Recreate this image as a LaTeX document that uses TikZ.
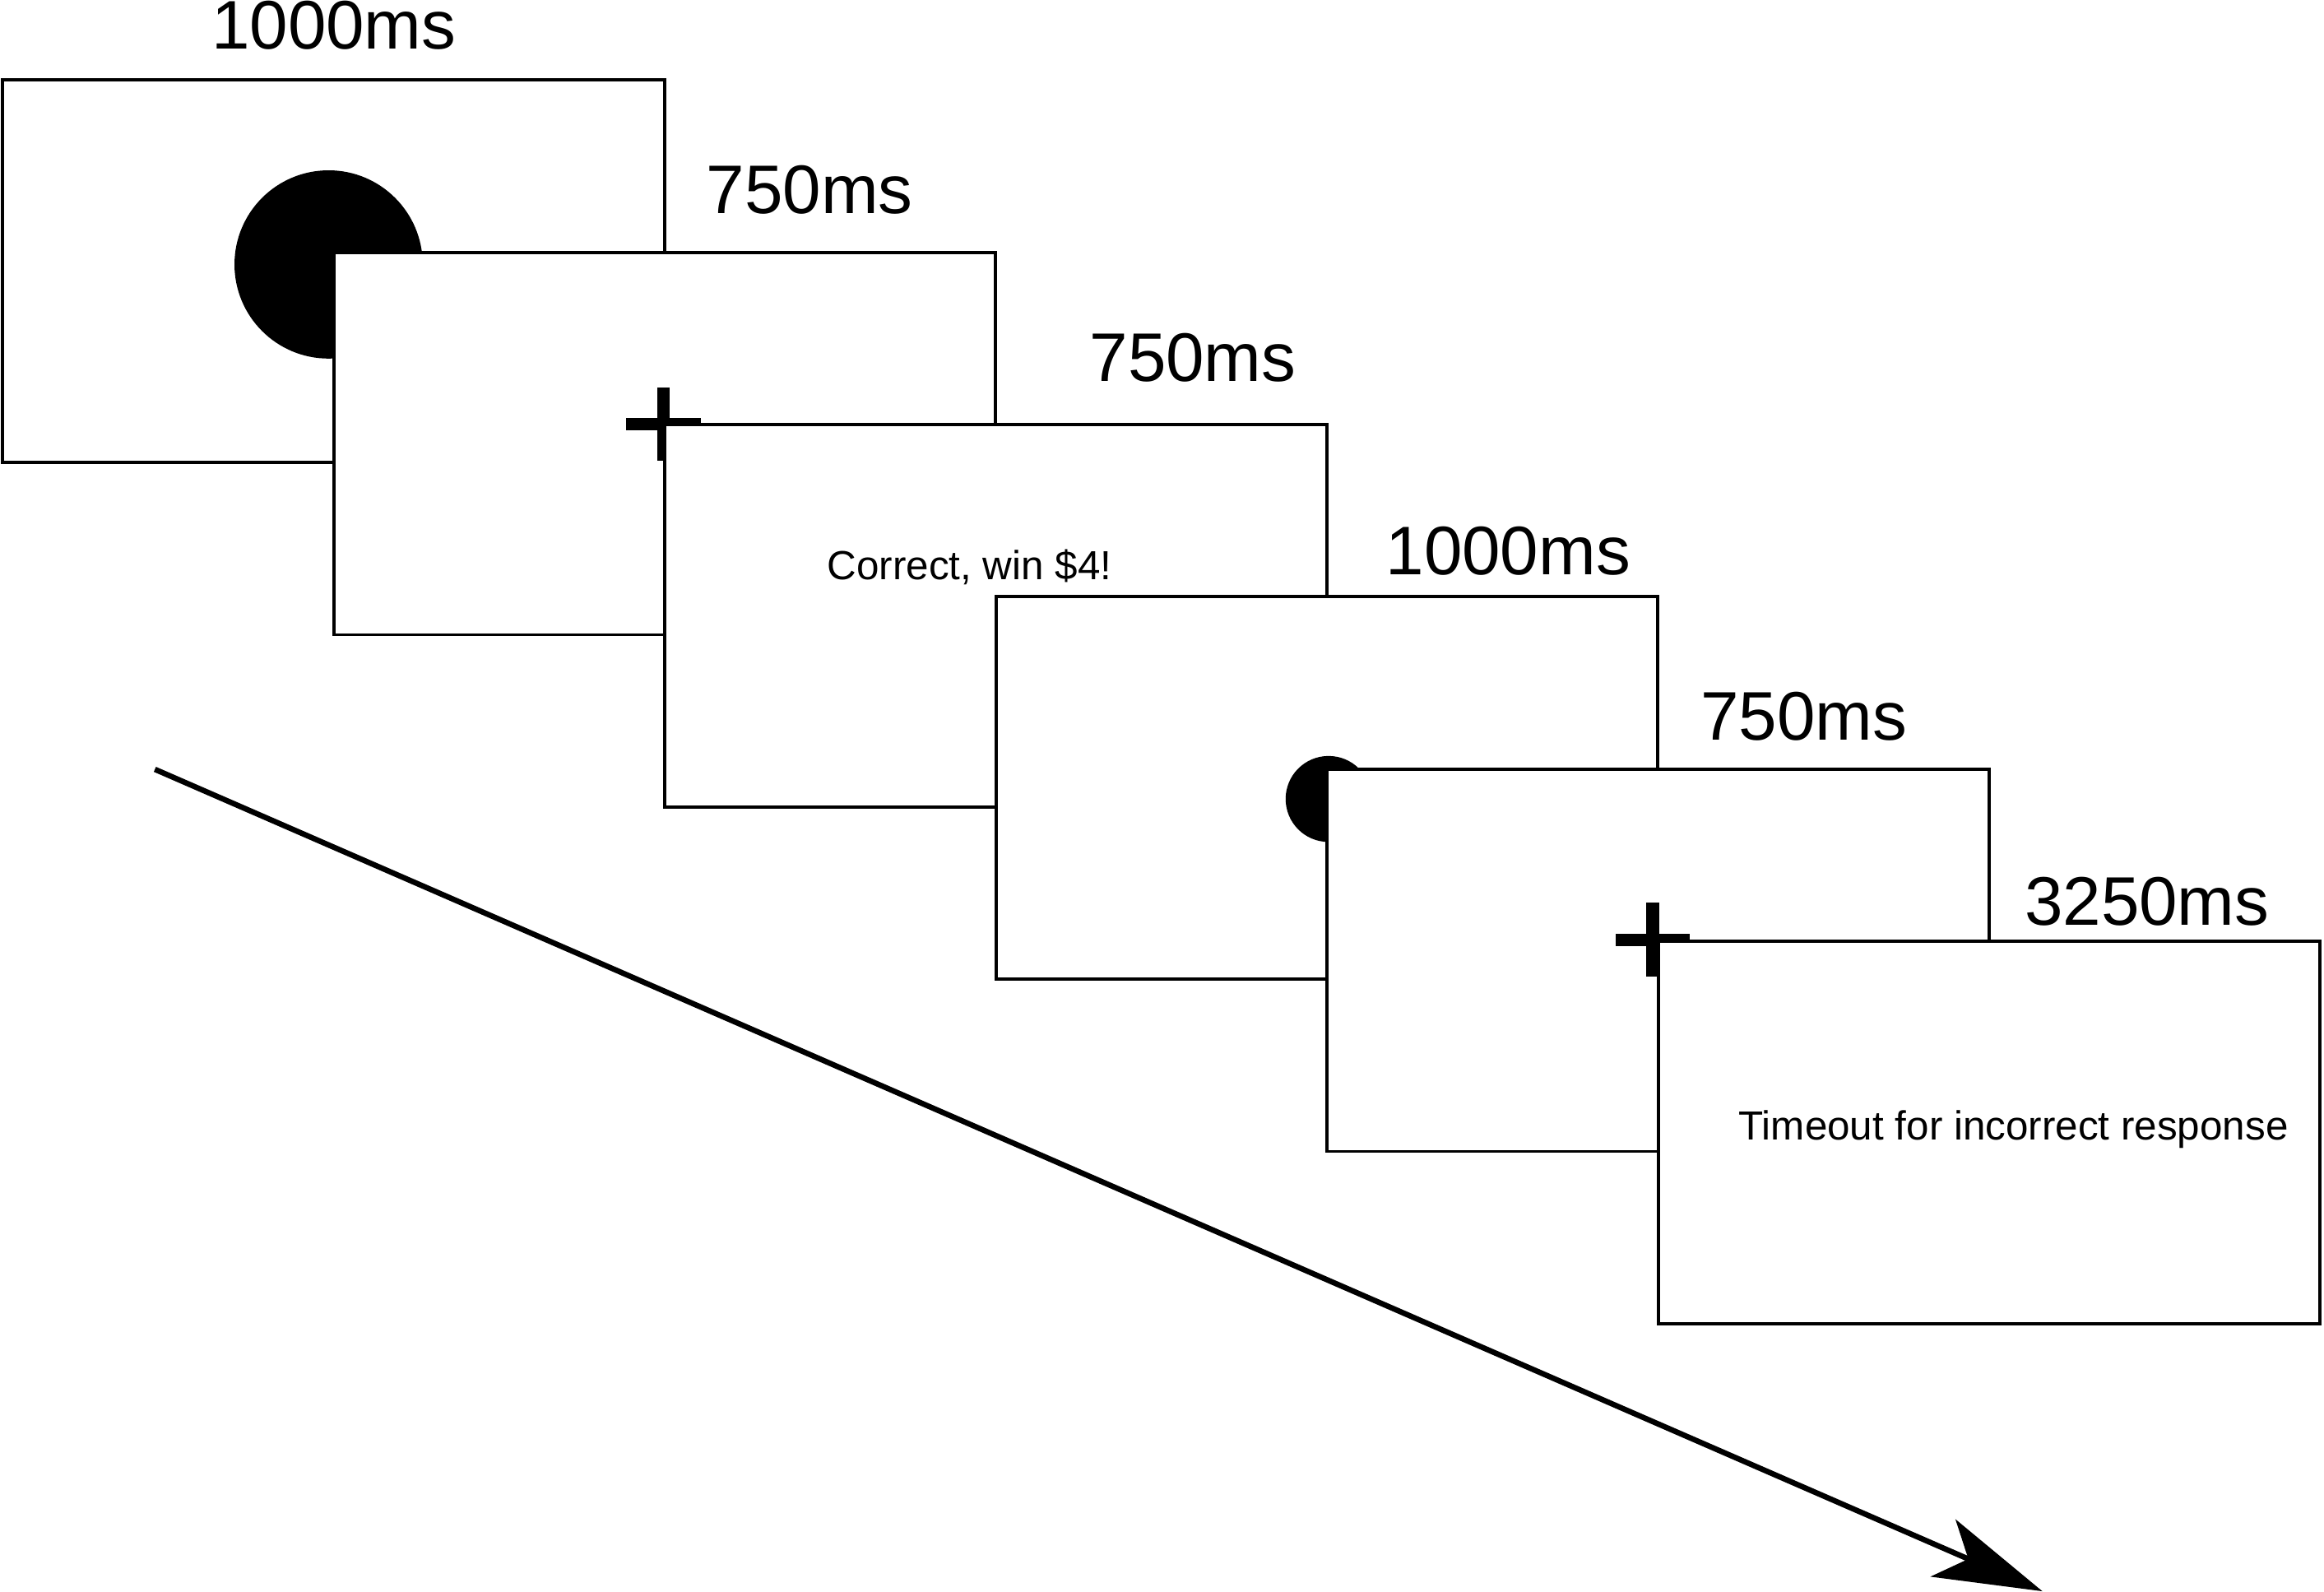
\documentclass[tikz,border=0pt]{standalone}
\usepackage{fontspec}
\setmainfont{Liberation Sans}
\usetikzlibrary{arrows.meta}

\begin{document}
\begin{tikzpicture}[
  screen/.style={draw=black, fill=white, line width=.6pt, minimum width=4.465cm, minimum height=2.58cm, inner sep=0pt},
  dur/.style={anchor=base, inner sep=0pt, font=\fontsize{13.2}{15}\selectfont},
  msg/.style={anchor=base, inner sep=0pt, font=\fontsize{7.8}{9}\selectfont},
  dot/.style={circle, fill=black, inner sep=0pt},
  timeline/.style={line width=1.05pt, -{Stealth[length=7.3mm, width=4.2mm, inset=1.85mm]}}
]
\useasboundingbox (0,0) rectangle (15.68,-10.74);

% time axis
\coordinate (t0) at (1.045,-5.19);
\coordinate (t1) at (13.78,-10.735);
\draw[timeline] (t0)--(t1);

% durations
\node (dA) [dur] at (2.252,-0.333) {1000ms};
\node (dB) [dur] at (5.462,-1.438) {750ms};
\node (dC) [dur] at (8.048,-2.572) {750ms};
\node (dD) [dur] at (10.175,-3.876) {1000ms};
\node (dE) [dur] at (12.17,-4.99) {750ms};
\node (dF) [dur] at (14.485,-6.244) {3250ms};

% first trial
\node (cueA) [screen] at (2.251,-1.83) {};
\node (dotA) [dot, minimum size=1.27cm] at (2.217,-1.784) {};

\node (fixA) [screen] at (4.485,-2.992) {};
\fill (4.225,-2.821) rectangle (4.727,-2.905);
\fill (4.432,-2.612) rectangle (4.520,-3.108);

\node (fbA) [screen] at (6.719,-4.154) {};
\node (winA) [msg] at (6.541,-3.91) {Correct, win \$4!};

% second trial
\node (cueB) [screen] at (8.953,-5.316) {};
\node (dotB) [dot, minimum size=.58cm] at (8.964,-5.39) {};

\node (fixB) [screen] at (11.187,-6.478) {};
\fill (10.90,-6.300) rectangle (11.40,-6.383);
\fill (11.106,-6.09) rectangle (11.196,-6.59);

\node (fbB) [screen] at (13.421,-7.64) {};
\node (outB) [msg] at (13.585,-7.69) {Timeout for incorrect response};
\end{tikzpicture}
\end{document}
